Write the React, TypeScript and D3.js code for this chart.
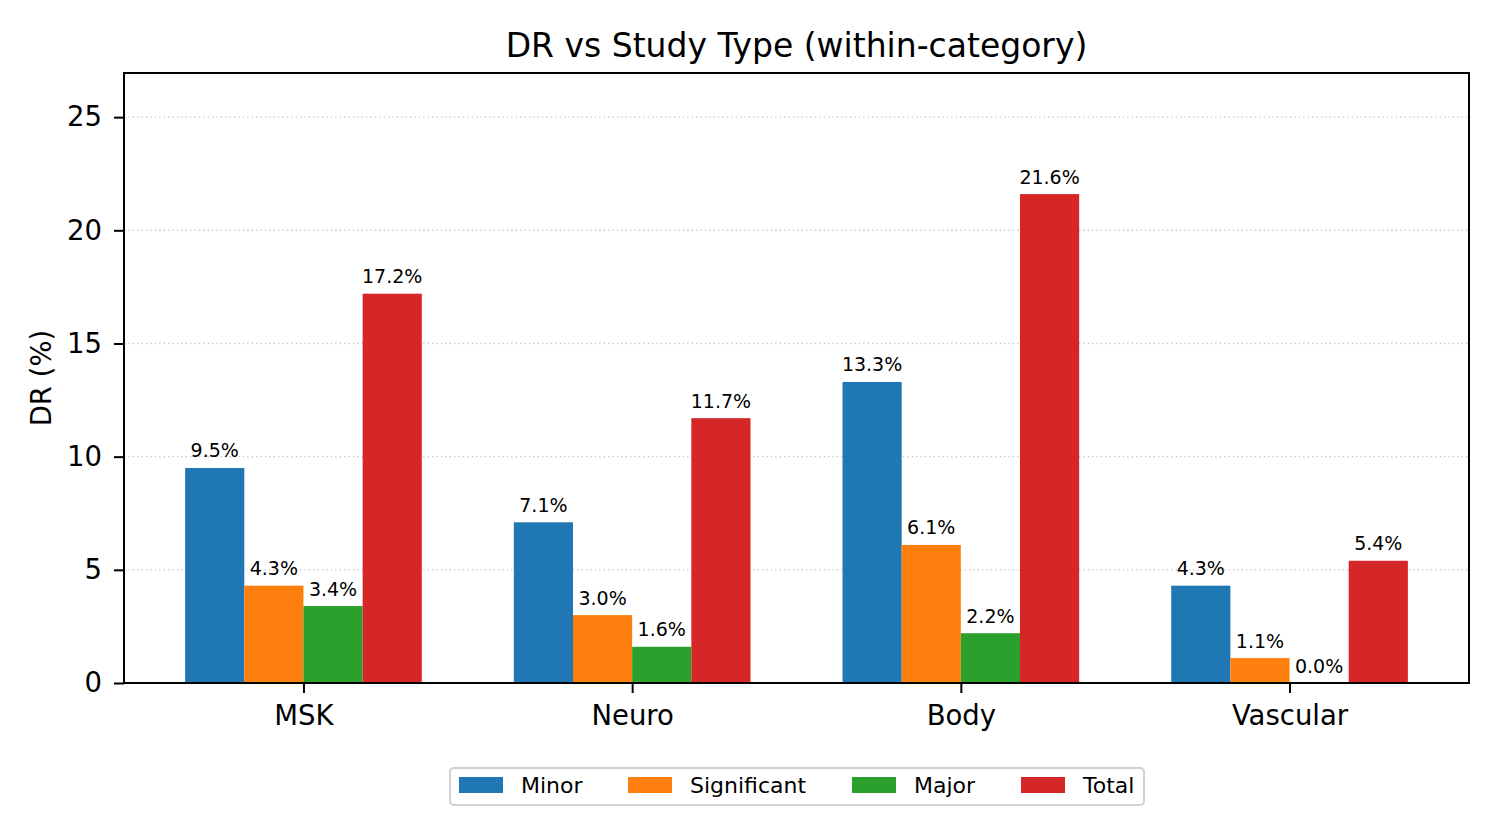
import { useEffect, useRef } from "react";
import * as d3 from "d3";

const categories = ["MSK", "Neuro", "Body", "Vascular"];
const seriesNames = ["Minor", "Significant", "Major", "Total"];
const minorValues = [9.5, 7.1, 13.3, 4.3];
const significantValues = [4.3, 3.0, 6.1, 1.1];
const majorValues = [3.4, 1.6, 2.2, 0.0];
const totalValues = [17.2, 11.7, 21.6, 5.4];
const yTicks = [0, 5, 10, 15, 20, 25];

const colors = ["#1f77b4", "#ff7f0e", "#2ca02c", "#d62728"];

export default function App() {
  const chartRef = useRef<SVGSVGElement>(null);

  useEffect(() => {
    document.body.style.margin = "0";
    if (!chartRef.current) return;
    d3.select(chartRef.current).selectAll("*").remove();

    const width = 1500;
    const height = 840;
    const margin = { top: 73, right: 31, bottom: 157, left: 124 };
    const font = "DejaVu Sans, sans-serif";

    const series = [minorValues, significantValues, majorValues, totalValues];
    const barW = 0.18;

    const svg = d3
      .select(chartRef.current)
      .attr("width", width)
      .attr("height", height)
      .attr("viewBox", `0 0 ${width} ${height}`);

    svg.append("rect").attr("width", width).attr("height", height).attr("fill", "#fff");

    const x = d3
      .scaleLinear()
      .domain([-0.546, 3.546])
      .range([margin.left, width - margin.right]);

    const y = d3
      .scaleLinear()
      .domain([0, 26.95])
      .range([height - margin.bottom, margin.top]);

    // grid
    svg
      .append("g")
      .selectAll("line")
      .data(yTicks.slice(1))
      .join("line")
      .attr("x1", margin.left)
      .attr("x2", width - margin.right)
      .attr("y1", (d) => y(d))
      .attr("y2", (d) => y(d))
      .attr("stroke", "#b0b0b0")
      .attr("stroke-opacity", 0.7)
      .attr("stroke-width", 1.4)
      .attr("stroke-dasharray", "1.4,3");

    // bars
    series.forEach((vals, si) => {
      const offset = (si - 1.5) * barW;
      svg
        .append("g")
        .selectAll("rect")
        .data(vals)
        .join("rect")
        .attr("x", (_, i) => x(i + offset - barW / 2))
        .attr("y", (d) => y(d))
        .attr("width", x(barW) - x(0))
        .attr("height", (d) => y(0) - y(d))
        .attr("fill", colors[si]);

      svg
        .append("g")
        .selectAll("text")
        .data(vals)
        .join("text")
        .attr("x", (_, i) => x(i + offset))
        .attr("y", (d) => y(d) - 10.5)
        .attr("text-anchor", "middle")
        .style("font-family", font)
        .style("font-size", "19px")
        .text((d) => d.toFixed(1) + "%");
    });

    // frame
    svg
      .append("rect")
      .attr("x", margin.left)
      .attr("y", margin.top)
      .attr("width", width - margin.left - margin.right)
      .attr("height", height - margin.top - margin.bottom)
      .attr("fill", "none")
      .attr("stroke", "#000")
      .attr("stroke-width", 2);

    // x axis
    const xAxis = svg
      .append("g")
      .attr("transform", `translate(0,${height - margin.bottom})`)
      .call(
        d3
          .axisBottom(x)
          .tickValues(d3.range(categories.length))
          .tickFormat((d) => categories[d as number])
          .tickSize(10)
          .tickPadding(12)
      );
    xAxis.select(".domain").remove();
    xAxis.selectAll("line").attr("stroke-width", 2);
    xAxis
      .selectAll("text")
      .style("font-family", font)
      .style("font-size", "27.5px")
      .attr("fill", "#000");

    // y axis
    const yAxis = svg
      .append("g")
      .attr("transform", `translate(${margin.left},0)`)
      .call(d3.axisLeft(y).tickValues(yTicks).tickSize(10).tickPadding(12));
    yAxis.select(".domain").remove();
    yAxis.selectAll("line").attr("stroke-width", 2);
    yAxis
      .selectAll("text")
      .style("font-family", font)
      .style("font-size", "27.5px")
      .attr("fill", "#000");

    // y label
    svg
      .append("text")
      .attr("transform", `translate(51,${(margin.top + height - margin.bottom) / 2}) rotate(-90)`)
      .attr("text-anchor", "middle")
      .style("font-family", font)
      .style("font-size", "27.5px")
      .text("DR (%)");

    // title
    svg
      .append("text")
      .attr("x", (margin.left + width - margin.right) / 2)
      .attr("y", 57)
      .attr("text-anchor", "middle")
      .style("font-family", font)
      .style("font-size", "33px")
      .text("DR vs Study Type (within-category)");

    // legend
    const legend = svg.append("g");
    legend
      .append("rect")
      .attr("x", 450)
      .attr("y", 768)
      .attr("width", 694)
      .attr("height", 37)
      .attr("rx", 4)
      .attr("fill", "#fff")
      .attr("stroke", "#d0d0d0")
      .attr("stroke-width", 2);
    const handleX = [459, 628, 852, 1021];
    seriesNames.forEach((name, i) => {
      legend
        .append("rect")
        .attr("x", handleX[i])
        .attr("y", 777)
        .attr("width", 44)
        .attr("height", 16)
        .attr("fill", colors[i]);
      legend
        .append("text")
        .attr("x", handleX[i] + 62)
        .attr("y", 793)
        .style("font-family", font)
        .style("font-size", "22px")
        .text(name);
    });
  }, []);

  return <svg ref={chartRef}></svg>;
}
